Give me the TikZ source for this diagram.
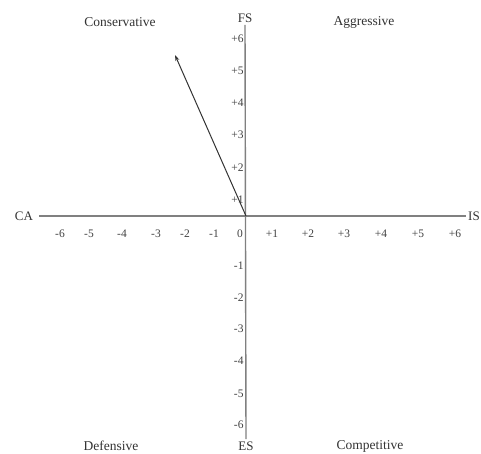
\documentclass[tikz,border=0pt]{standalone}
\usepackage{fontspec}
\setmainfont{Liberation Serif}
\usetikzlibrary{arrows.meta}

\begin{document}
\begin{tikzpicture}[>={Stealth[length=6pt,width=4pt]}, x=1pt, y=1pt, line width=0.9pt,
  quadlbl/.style={font=\fontsize{13.5}{14}\selectfont, text=black!80},
  axislbl/.style={font=\fontsize{13}{14}\selectfont, text=black!80, inner sep=2pt},
  ticklbl/.style={font=\fontsize{11.5}{12}\selectfont, text=black!75, inner sep=1pt},
  axisline/.style={draw=black!50, line width=1.4pt}]
  \useasboundingbox (0,0) rectangle (481,453);
  % quadrants
  \node[quadlbl] (cons) at (120,431) {Conservative};
  \node[quadlbl] (aggr) at (364,431) {Aggressive};
  \node[quadlbl] (def)  at (111,7) {Defensive};
  \node[quadlbl] (comp) at (370,7) {Competitive};
  % axes
  \node[axislbl] (FS) at (245,435) {FS};
  \node[axislbl] (ES) at (246,7) {ES};
  \node[axislbl] (CA) at (24,237) {CA};
  \node[axislbl] (IS) at (474,237) {IS};
  \draw[axisline] (FS.south) -- (ES.north);
  \draw[axisline, shorten <=4pt] (CA.east) -- (IS.west);
  \coordinate (O) at (246,237);
  % tick labels
  \foreach \x/\t in {60/-6, 89/-5, 122/-4, 156/-3, 185/-2, 214/-1, 240/0,
                     272/+1, 308/+2, 344/+3, 381/+4, 418/+5, 455/+6}
    \node[ticklbl] at (\x,219) {\t};
  \foreach \y/\t in {414/+6, 382/+5, 350/+4, 318/+3, 285/+2, 253/+1,
                     187/-1, 155/-2, 124/-3, 92/-4, 59/-5, 28/-6}
    \node[ticklbl, anchor=east] at (245,\y) {\t};
  % vector
  \coordinate (tip) at (175,398);
  \draw[->, draw=black!80, line width=1pt] (O) -- (tip);
\end{tikzpicture}
\end{document}
